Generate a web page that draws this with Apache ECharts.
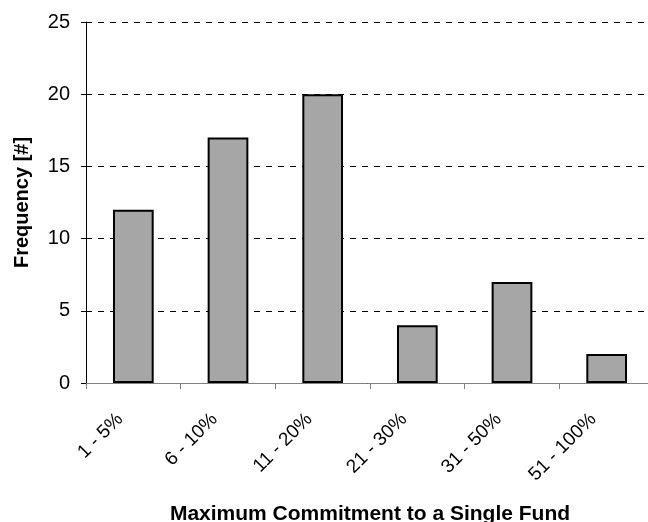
<!DOCTYPE html>
<html><head><meta charset="utf-8">
<script src="https://cdn.jsdelivr.net/npm/echarts@6/dist/echarts.min.js"></script>
<style>html,body{margin:0;padding:0;background:#fff}#c{width:648px;height:522px}</style>
</head><body><div id="c"></div>
<script>
const categories = ['1 - 5%', '6 - 10%', '11 - 20%', '21 - 30%', '31 - 50%', '51 - 100%'];
const frequency = [12, 17, 20, 4, 7, 2];
const yTicks = [0, 5, 10, 15, 20, 25];

const chart = echarts.init(document.getElementById('c'));
chart.setOption({
  animation: false,
  grid: { left: 86, top: 22, bottom: 139, width: 568, containLabel: false, outerBoundsMode: 'none' },
  xAxis: {
    type: 'category',
    data: categories,
    name: 'Maximum Commitment to a Single Fund',
    nameLocation: 'middle',
    nameGap: 121,
    nameTextStyle: { fontFamily: 'Liberation Sans', fontWeight: 'bold', fontSize: 21, color: '#000' },
    axisLine: { lineStyle: { color: '#808080', width: 1 } },
    axisTick: { show: true, length: 6, lineStyle: { color: '#808080' } },
    axisLabel: { rotate: 45, fontFamily: 'Liberation Sans', fontSize: 19, color: '#000', margin: 20,
      padding: [0, 19, 0, 0] }
  },
  yAxis: {
    type: 'value',
    min: 0, max: 25, interval: 5,
    name: 'Frequency [#]',
    nameLocation: 'middle',
    nameGap: 54,
    nameTextStyle: { fontFamily: 'Liberation Sans', fontWeight: 'bold', fontSize: 20, color: '#000' },
    axisLine: { show: true, lineStyle: { color: '#000', width: 1 } },
    axisTick: { show: true, length: 5, lineStyle: { color: '#000' } },
    axisLabel: { fontFamily: 'Liberation Sans', fontSize: 20, color: '#000', margin: 16,
      formatter: v => yTicks.includes(v) ? String(v) : '' },
    splitLine: { show: true, lineStyle: { color: '#000', type: [6, 6], width: 1 } }
  },
  series: [{
    type: 'bar',
    data: frequency,
    barWidth: '43%',
    itemStyle: { color: '#a6a6a6', borderColor: '#000', borderWidth: 2 }
  }]
});
</script></body></html>
